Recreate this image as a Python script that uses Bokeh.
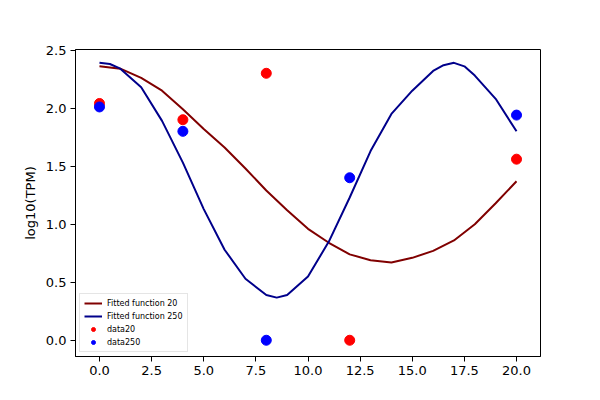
from bokeh.plotting import figure
from bokeh.models import Range1d, FixedTicker, NumeralTickFormatter, Legend, LegendItem
from bokeh.embed import file_html
from bokeh.resources import INLINE

# Fitted curves
fit_x20 = [0, 1, 2, 3, 4, 5, 6, 7, 8, 9, 10, 11, 12, 13, 14, 15, 16, 17, 18, 19, 20]
fit_y20 = [2.36, 2.34, 2.26, 2.15, 1.99, 1.82, 1.66, 1.48, 1.29, 1.12, 0.96, 0.84,
           0.74, 0.69, 0.67, 0.71, 0.77, 0.86, 1.00, 1.18, 1.37]
fit_x250 = [0, 0.5, 1, 2, 3, 4, 5, 6, 7, 8, 8.5, 9, 10, 11, 12, 13, 14, 15, 16, 16.5, 17, 17.5, 18, 19, 20]
fit_y250 = [2.39, 2.38, 2.34, 2.18, 1.89, 1.53, 1.13, 0.78, 0.53, 0.39, 0.367, 0.39, 0.55,
            0.85, 1.23, 1.63, 1.95, 2.15, 2.32, 2.37, 2.39, 2.36, 2.28, 2.08, 1.80]

# Data points
data_x = [0, 4, 8, 12, 20]
data20 = [2.04, 1.90, 2.30, 0.0, 1.56]
data250 = [2.01, 1.80, 0.0, 1.40, 1.94]

x_ticks = [0, 2.5, 5, 7.5, 10, 12.5, 15, 17.5, 20]
y_ticks = [0, 0.5, 1.0, 1.5, 2.0, 2.5]

FONT = "DejaVu Sans"

p = figure(width=592, height=392, output_backend="svg", toolbar_location=None,
           x_range=Range1d(-1.15, 21.15), y_range=Range1d(-0.14, 2.505),
           min_border_left=75, min_border_right=52, min_border_top=49, min_border_bottom=36)
p.background_fill_color = "white"
p.border_fill_color = "white"
p.outline_line_color = "black"
p.outline_line_width = 1
p.xgrid.visible = False
p.ygrid.visible = False

for ax in (p.xaxis[0], p.yaxis[0]):
    ax.major_label_text_font = FONT
    ax.major_label_text_font_size = "13px"
    ax.major_label_text_color = "black"
    ax.major_tick_out = 5
    ax.major_tick_in = 0
    ax.minor_tick_out = 0
    ax.minor_tick_in = 0
    ax.major_label_standoff = 4
    ax.axis_line_color = "black"
    ax.major_tick_line_color = "black"
    ax.formatter = NumeralTickFormatter(format="0.0")

p.xaxis[0].ticker = FixedTicker(ticks=x_ticks)
p.yaxis[0].ticker = FixedTicker(ticks=y_ticks)
p.yaxis[0].axis_label = "log10(TPM)"
p.yaxis[0].axis_label_text_font = FONT
p.yaxis[0].axis_label_text_font_size = "13px"
p.yaxis[0].axis_label_text_font_style = "normal"
p.yaxis[0].axis_label_text_color = "black"
p.yaxis[0].axis_label_standoff = 5

l20 = p.line(fit_x20, fit_y20, line_color="#800000", line_width=2)
l250 = p.line(fit_x250, fit_y250, line_color="#00008b", line_width=2)
s20 = p.scatter(data_x, data20, size=10, fill_color="#ff0000", line_color="#ff0000")
s250 = p.scatter(data_x, data250, size=10, fill_color="#0000ff", line_color="#0000ff")

legend = Legend(items=[
    LegendItem(label="Fitted function 20", renderers=[l20]),
    LegendItem(label="Fitted function 250", renderers=[l250]),
    LegendItem(label="data20", renderers=[s20]),
    LegendItem(label="data250", renderers=[s250]),
], location=(4, 4))
legend.label_text_font = FONT
legend.label_text_font_size = "8px"
legend.label_text_color = "black"
legend.label_height = 10
legend.glyph_height = 10
legend.glyph_width = 18
legend.spacing = 3
legend.padding = 4
legend.margin = 0
legend.label_standoff = 5
legend.border_line_color = "#cccccc"
legend.border_line_width = 1
legend.background_fill_color = "white"
legend.background_fill_alpha = 0.8
p.add_layout(legend, "center")

open("out.html", "w").write(file_html(p, INLINE))
